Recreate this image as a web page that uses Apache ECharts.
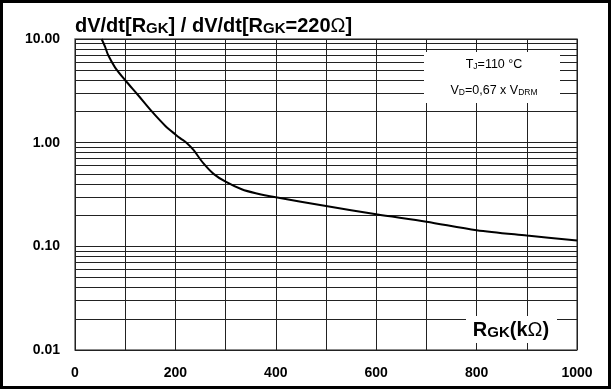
<!DOCTYPE html>
<html>
<head>
<meta charset="utf-8">
<script src="https://cdn.jsdelivr.net/npm/echarts@6/dist/echarts.min.js"></script>
<style>
  html, body { margin: 0; padding: 0; background: #fff; }
  #chart { width: 611px; height: 389px; }
</style>
</head>
<body>
<div id="chart"></div>
<script>
// Gate-cathode resistance in kΩ and the normalised dV/dt ratio
const rgk = [53, 60, 66, 80, 100, 125, 153, 180, 200, 210, 222, 236, 256, 276, 300, 332, 360, 400, 500, 600, 700, 800, 900, 1000];
const ratio = [10.0, 8.4, 7.0, 5.3, 4.0, 2.9, 2.0, 1.45, 1.2, 1.1, 1.0, 0.85, 0.63, 0.50, 0.42, 0.355, 0.325, 0.297, 0.245, 0.204, 0.173, 0.143, 0.127, 0.114];

// Log-axis decades and the minor grid values between them
const yTicks = [0.01, 0.1, 1, 10];
const minorGrid = [];
for (let d = 0; d < yTicks.length - 1; d++) {
  for (let m = 2; m <= 9; m++) minorGrid.push(+(m * yTicks[d]).toPrecision(3));
}

const FONT = "'Liberation Sans', Arial, sans-serif";
const chart = echarts.init(document.getElementById('chart'), null, { renderer: 'canvas' });

const subText = {
  n: { fontFamily: FONT, fontSize: 12.5, fill: '#000', verticalAlign: 'bottom', lineHeight: 15 },
  b: { fontFamily: FONT, fontSize: 8.5, fill: '#000', verticalAlign: 'bottom', lineHeight: 12 }
};

chart.setOption({
  animation: false,
  backgroundColor: '#fff',
  grid: { left: 75, right: 34, top: 39, bottom: 39, show: true, borderColor: '#666', borderWidth: 1.5 },
  xAxis: {
    type: 'value', min: 0, max: 1000, interval: 100,
    axisLine: { show: false }, axisTick: { show: false },
    axisLabel: {
      margin: 16, color: '#000', fontFamily: FONT, fontWeight: 'bold', fontSize: 14,
      formatter: v => (v % 200 === 0 ? String(v) : '')
    },
    splitLine: { show: true, lineStyle: { color: '#222', width: 1 } }
  },
  yAxis: {
    type: 'log', logBase: 10, min: 0.01, max: 10,
    axisLine: { show: false }, axisTick: { show: false },
    axisLabel: {
      margin: 15, color: '#000', fontFamily: FONT, fontWeight: 'bold', fontSize: 14,
      formatter: v => Number(v).toFixed(2)
    },
    splitLine: { show: true, lineStyle: { color: '#222', width: 1 } }
  },
  title: {
    left: 70, top: 8,
    text: '{a|dV/dt[R}{s|GK}{a|] / dV/dt[R}{s|GK}{a|=220}{o|Ω}{a|]}',
    textStyle: {
      rich: {
        a: { fontFamily: FONT, fontWeight: 'bold', fontSize: 20, color: '#000', verticalAlign: 'bottom', lineHeight: 23 },
        s: { fontFamily: FONT, fontWeight: 'bold', fontSize: 15, color: '#000', verticalAlign: 'bottom', lineHeight: 21 },
        o: { fontFamily: FONT, fontWeight: 'normal', fontSize: 20, color: '#000', verticalAlign: 'bottom', lineHeight: 23 }
      }
    }
  },
  graphic: [
    { type: 'rect', z: 100, shape: { x: 1.5, y: 1.5, width: 608, height: 386 },
      style: { fill: null, stroke: '#000', lineWidth: 3 } },
    { type: 'rect', z: 50, shape: { x: 424, y: 52, width: 136, height: 51 }, style: { fill: '#fff' } },
    { type: 'text', z: 51, x: 494, y: 64,
      style: { text: '{n|T}{b|J}{n|=110 °C}', align: 'center', verticalAlign: 'middle', rich: subText } },
    { type: 'text', z: 51, x: 494, y: 90,
      style: { text: '{n|V}{b|D}{n|=0,67 x V}{b|DRM}', align: 'center', verticalAlign: 'middle', rich: subText } },
    { type: 'rect', z: 50, shape: { x: 466, y: 316, width: 91, height: 27 }, style: { fill: '#fff' } },
    { type: 'text', z: 51, x: 511, y: 329,
      style: {
        text: '{a|R}{s|GK}{a|(k}{o|Ω}{a|)}', align: 'center', verticalAlign: 'middle',
        rich: {
          a: { fontFamily: FONT, fontWeight: 'bold', fontSize: 20, fill: '#000', verticalAlign: 'bottom', lineHeight: 23 },
          s: { fontFamily: FONT, fontWeight: 'bold', fontSize: 15, fill: '#000', verticalAlign: 'bottom', lineHeight: 21 },
          o: { fontFamily: FONT, fontWeight: 'normal', fontSize: 20, fill: '#000', verticalAlign: 'bottom', lineHeight: 23 }
        }
      } }
  ],
  series: [
    {
      // minor logarithmic grid lines
      type: 'line', data: [], z: 1, silent: true,
      markLine: {
        silent: true, symbol: 'none', animation: false,
        label: { show: false },
        lineStyle: { color: '#222', width: 1, type: 'solid' },
        data: minorGrid.map(v => ({ yAxis: v }))
      }
    },
    {
      type: 'line', z: 5,
      data: rgk.map((x, i) => [x, ratio[i]]),
      showSymbol: false, smooth: 0.3,
      lineStyle: { color: '#000', width: 2 }
    }
  ]
});
</script>
</body>
</html>
